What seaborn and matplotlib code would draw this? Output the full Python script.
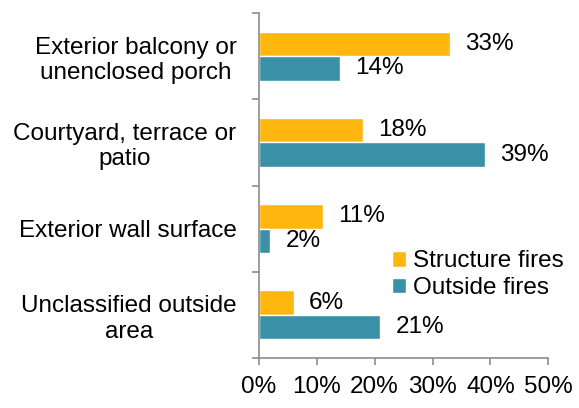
"""Fire location comparison: structure vs outside fires."""
import matplotlib

matplotlib.use("Agg")
import matplotlib.pyplot as plt
import pandas as pd
import seaborn as sns

categories = [
    "Exterior balcony or\nunenclosed porch",
    "Courtyard, terrace or\npatio",
    "Exterior wall surface",
    "Unclassified outside\narea",
]
structure_fires = [33, 18, 11, 6]
outside_fires = [14, 39, 2, 21]
series_names = ["Structure fires", "Outside fires"]
x_ticks = [0, 10, 20, 30, 40, 50]

df = pd.DataFrame({
    "category": categories * 2,
    "series": [series_names[0]] * 4 + [series_names[1]] * 4,
    "value": structure_fires + outside_fires,
})

sns.set_theme(style="white")
plt.rcParams["font.family"] = ["Liberation Sans", "DejaVu Sans"]
plt.rcParams["text.color"] = "black"
FS = 17.5

fig = plt.figure(figsize=(5.79, 4.08), dpi=100)
ax = fig.add_axes([0.447, 0.1225, 0.5, 0.8455])

palette = {"Structure fires": "#FFB60F", "Outside fires": "#3A90A7"}
sns.barplot(data=df, x="value", y="category", hue="series", order=categories,
            hue_order=series_names, palette=palette, width=0.57, saturation=1,
            ax=ax)

for container in ax.containers:
    ax.bar_label(container, labels=[f"{v:.0f}%" for v in container.datavalues],
                 padding=11, fontsize=FS, color="black")

ax.set_xlim(0, 50)
ax.set_ylim(3.5, -0.5)
ax.set_xticks(x_ticks)
ax.set_xticklabels([f"{t}%" for t in x_ticks], fontsize=FS, color="black")
ax.set_yticks(range(len(categories)))
ax.set_yticklabels(categories, fontsize=FS, color="black",
                   multialignment="center", linespacing=1.2)
ax.set_yticks([i - 0.5 for i in range(len(categories) + 1)], minor=True)
ax.tick_params(axis="y", which="major", length=0, pad=16)
ax.tick_params(axis="y", which="minor", length=5, width=1.2, color="#8c8c8c",
               direction="out", left=True)
ax.tick_params(axis="x", which="major", length=5, width=1.2, color="#8c8c8c",
               direction="out", bottom=True, pad=8)
ax.set_xlabel("")
ax.set_ylabel("")

for side in ["top", "right"]:
    ax.spines[side].set_visible(False)
for side in ["left", "bottom"]:
    ax.spines[side].set_color("#8c8c8c")
    ax.spines[side].set_linewidth(1.2)

ax.legend(loc="upper left", bbox_to_anchor=(0.425, 0.34), frameon=False,
          fontsize=FS, handlelength=0.6, handleheight=0.6, handletextpad=0.3,
          labelspacing=0.2, borderaxespad=0)

fig.savefig("out.png", dpi=100)
plt.close(fig)
